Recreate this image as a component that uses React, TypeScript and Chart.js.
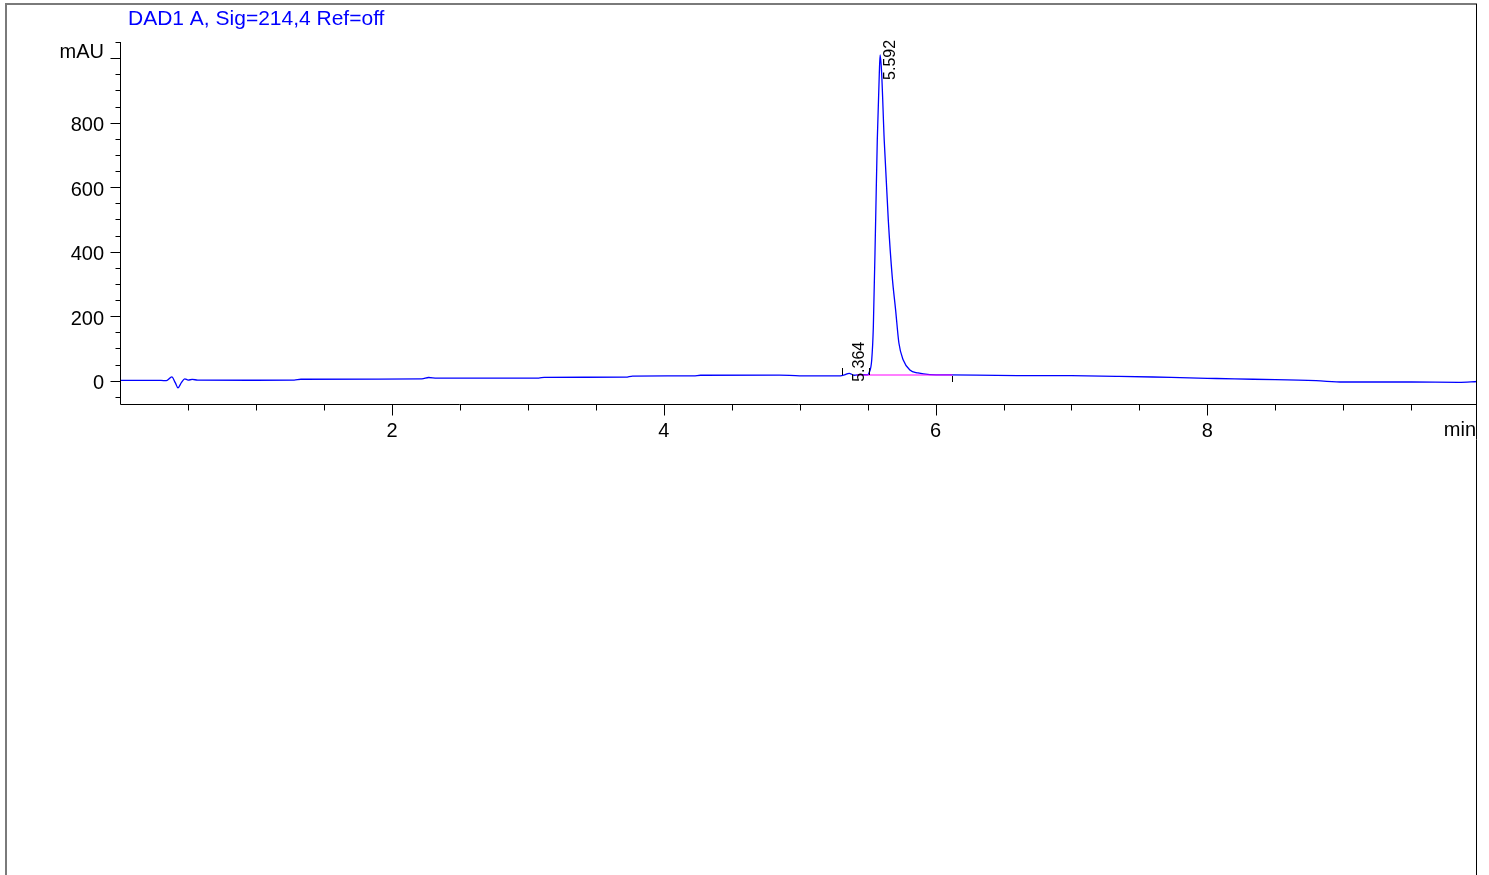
import React, { useEffect, useRef } from "react";
import { Chart, registerables } from "chart.js";

Chart.register(...registerables);

// ---- data ----
const timeMin = [
  0.0, 0.3, 0.34, 0.38, 0.405, 0.425, 0.45, 0.475, 0.5, 0.53, 0.57, 1.0, 1.28, 1.33, 1.9, 2.22, 2.27, 2.33,
  3.08, 3.12, 3.72, 3.77, 4.22, 4.27, 4.85, 5.0, 5.3, 5.33, 5.364, 5.4, 5.45, 5.5, 5.51, 5.53, 5.542, 5.559,
  5.571, 5.586, 5.592, 5.603, 5.622, 5.652, 5.681, 5.706, 5.73, 5.762, 5.811, 5.87, 5.958, 6.1, 6.6, 7.0,
  7.35, 7.6, 7.8, 8.0, 8.2, 8.5, 8.8, 9.0, 9.5, 9.85, 9.984,
];
const signalMAU = [
  1, 1, 0, 12, -6, -22, -6, 6, 2, 4, 2, 1.5, 2, 4.5, 5, 5.5, 10, 8,
  8, 10.5, 11, 14.5, 15, 17, 17.5, 15, 15, 18, 23, 17, 19, 18, 24, 64, 167, 498,
  746, 954, 1010, 954, 746, 498, 322, 219, 117, 64, 33, 24, 19, 18, 16, 15.5,
  13.5, 11.5, 9.5, 7.5, 5.5, 3.5, 0, -4, -4, -5, -2.5,
];
const baselineTimes = [5.42, 6.124];
const baselineValues = [17.7, 17.7];
const peakTimes = [5.364, 5.592];
const peakApex = [23, 1010];
const peakLabels = ["5.364", "5.592"];
const markerTimes = [5.314, 5.508, 6.124];
const xMajorTicks = [2, 4, 6, 8];
const xTickLabels = ["2", "4", "6", "8"];
const yMajorTicks = [0, 200, 400, 600, 800, 1000];
const yTickLabels = ["0", "200", "400", "600", "800", "mAU"];
const titleText = "DAD1 A, Sig=214,4 Ref=off";
const xUnitLabel = "min";

const FONT = '"Liberation Sans", Arial, sans-serif';

const decorPlugin = {
  id: "chromDecor",
  afterDatasetsDraw(chart: any) {
    const { ctx, chartArea: a, scales } = chart;
    const x = scales.x;
    const y = scales.y;
    const H = chart.height;
    ctx.save();

    // frame
    ctx.strokeStyle = "#7a7a7a";
    ctx.lineWidth = 2;
    ctx.beginPath();
    ctx.moveTo(6, H);
    ctx.lineTo(6, 4);
    ctx.lineTo(a.right, 4);
    ctx.stroke();
    ctx.strokeStyle = "#000";
    ctx.lineWidth = 1;
    ctx.beginPath();
    ctx.moveTo(Math.round(a.right) - 0.5, 4);
    ctx.lineTo(Math.round(a.right) - 0.5, H);
    ctx.stroke();

    // axes lines
    const ax = Math.round(a.left) + 0.5;
    const ay = Math.round(a.bottom) + 0.5;
    ctx.strokeStyle = "#000";
    ctx.lineWidth = 1;
    ctx.beginPath();
    ctx.moveTo(ax, Math.round(a.top));
    ctx.lineTo(ax, ay);
    ctx.lineTo(a.right, ay);
    ctx.stroke();

    // y ticks: minor every 50, major listed
    ctx.beginPath();
    for (let v = -50; v <= 1050; v += 50) {
      const py = Math.round(y.getPixelForValue(v)) + 0.5;
      const major = yMajorTicks.includes(v);
      ctx.moveTo(ax - (major ? 10 : 5), py);
      ctx.lineTo(ax, py);
    }
    // x ticks: minor every 0.5
    for (let t = 0.5; t < x.max; t += 0.5) {
      const px = Math.round(x.getPixelForValue(t)) + 0.5;
      const major = xMajorTicks.includes(Math.round(t * 100) / 100);
      ctx.moveTo(px, ay);
      ctx.lineTo(px, ay + (major ? 11 : 6));
    }
    ctx.stroke();

    // y labels
    ctx.fillStyle = "#000";
    ctx.font = `20px ${FONT}`;
    ctx.textAlign = "right";
    ctx.textBaseline = "alphabetic";
    yMajorTicks.forEach((v, i) => {
      const py = y.getPixelForValue(v);
      const lab = yTickLabels[i];
      if (lab === "mAU") ctx.fillText(lab, ax - 16.5, py);
      else ctx.fillText(lab, ax - 16.5, py + 8.5);
    });
    // x labels
    ctx.textAlign = "center";
    xMajorTicks.forEach((t, i) => {
      ctx.fillText(xTickLabels[i], x.getPixelForValue(t), ay + 32);
    });
    ctx.textAlign = "right";
    ctx.fillText(xUnitLabel, a.right - 1, ay + 31);

    // title
    ctx.fillStyle = "#0000ff";
    ctx.font = `21px ${FONT}`;
    ctx.textAlign = "left";
    ctx.fillText(titleText, 128, 25);

    // integration markers
    ctx.strokeStyle = "#000";
    ctx.beginPath();
    markerTimes.forEach((t, i) => {
      const px = Math.round(x.getPixelForValue(t)) + 0.5;
      const pb = y.getPixelForValue(baselineValues[0]);
      if (i < markerTimes.length - 1) {
        ctx.moveTo(px, pb - 7);
        ctx.lineTo(px, pb);
      } else {
        ctx.moveTo(px, pb + 1);
        ctx.lineTo(px, pb + 7);
      }
    });
    ctx.stroke();

    // peak labels (rotated)
    const drops = [8.5, 25];
    ctx.fillStyle = "#000";
    ctx.font = `16px ${FONT}`;
    peakTimes.forEach((t, i) => {
      const px = x.getPixelForValue(t) + 10;
      const py = y.getPixelForValue(peakApex[i]) + drops[i];
      ctx.save();
      ctx.translate(px, py);
      ctx.rotate(-Math.PI / 2);
      ctx.textAlign = "left";
      ctx.textBaseline = "middle";
      ctx.fillText(peakLabels[i], 0, 0);
      ctx.restore();
    });

    ctx.restore();
  },
};

export default function App() {
  const ref = useRef<HTMLCanvasElement | null>(null);
  useEffect(() => {
    if (!ref.current) return;
    const chart = new Chart(ref.current, {
      type: "line",
      data: {
        datasets: [
          {
            label: "baseline",
            data: baselineTimes.map((t, i) => ({ x: t, y: baselineValues[i] })),
            borderColor: "#ff00ff",
            borderWidth: 1.2,
            pointRadius: 0,
            tension: 0,
            order: 0,
          },
          {
            label: "DAD1 A",
            data: timeMin.map((t, i) => ({ x: t, y: signalMAU[i] })),
            borderColor: "#0000ff",
            borderWidth: 1.3,
            pointRadius: 0,
            cubicInterpolationMode: "monotone",
            order: 1,
          },
        ],
      },
      options: {
        animation: false,
        responsive: false,
        maintainAspectRatio: false,
        events: [],
        layout: { padding: { left: 120.2, right: 12, top: 42, bottom: 471 } },
        plugins: { legend: { display: false }, tooltip: { enabled: false }, title: { display: false } },
        scales: {
          x: { type: "linear", min: 0, max: 9.984, display: false },
          y: { type: "linear", min: -72.2, max: 1050.2, display: false },
        },
      },
      plugins: [decorPlugin],
    });
    return () => chart.destroy();
  }, []);
  return (
    <div style={{ position: "fixed", left: 0, top: 0, width: 1489, height: 875, background: "#fff" }}>
      <canvas ref={ref} width={1489} height={875} style={{ width: 1489, height: 875, display: "block" }} />
    </div>
  );
}
